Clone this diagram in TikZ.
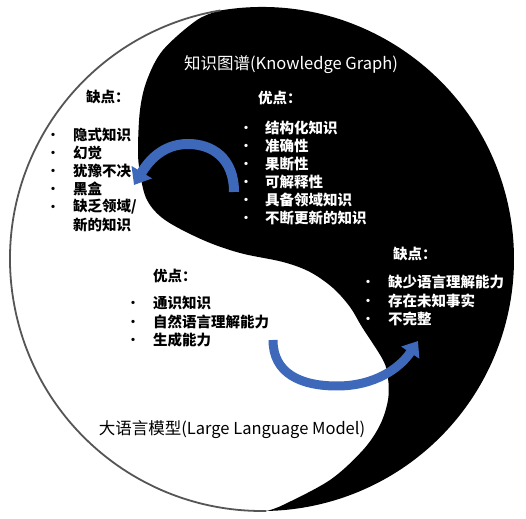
\documentclass[tikz,border=0pt]{standalone}
\usepackage{fontspec}
\setmainfont{Noto Sans CJK SC}
\usetikzlibrary{arrows.meta}
\definecolor{arrowblue}{RGB}{62,104,186}
\definecolor{rimgray}{RGB}{85,85,85}
\begin{document}
\begin{tikzpicture}[x=1pt,y=1pt,
  lst/.style={anchor=west, inner sep=0pt, font=\bfseries\fontsize{14.5}{18}\selectfont},
  bul/.style={anchor=center, inner sep=0pt, font=\bfseries\fontsize{12}{18}\selectfont},
  ttl/.style={inner sep=0pt, font=\fontsize{16.5}{20}\selectfont},
  curved/.style={draw=arrowblue, line width=10pt, -{Triangle[width=23pt,length=15pt]}}]
\useasboundingbox (0,0) rectangle (526,518);
\fill[white] (0,0) rectangle (526,518);
\coordinate (O) at (262,259);
\path (O) ++(99.5:252) coordinate (T);
\path (O) ++(-89:252) coordinate (B);
% black half
\fill[black] (T) arc[start angle=99.5, end angle=-89, radius=252]
  -- plot[smooth, tension=0.55] coordinates {(B) (283,13) (330,38) (363,68) (380,93) (388,118) (388,140) (383,158) (362,191) (350,211) (333,230) (310,246) (283,256) (240,265) (203,278) (165,298) (147,318) (140,345) (138,368) (140,408) (147,438) (163,468) (197,498) (T)} -- cycle;
% grey rim of the white half
\draw[rimgray, line width=1.8pt] (T) arc[start angle=99.5, end angle=271, radius=252];

% titles
\node[ttl, text=white] (kg) at (291,453) {知识图谱(Knowledge Graph)};
\node[ttl, text=black] (llm) at (232,88) {大语言模型(Large Language Model)};

% labels
\node[lst, text=black] (kgcons) at (86,421) {缺点：};
\node[lst, text=white] (kgpros) at (258,420) {优点：};
\node[lst, text=white] (llmcons) at (393,264) {缺点：};
\node[lst, text=black] (llmpros) at (153,242) {优点：};

% left list (black)
\foreach \t [count=\i] in {隐式知识,幻觉,犹豫不决,黑盒,缺乏领域/} {
  \node[bul, text=black] (lb\i) at (53,{383-18*(\i-1)}) {\vphantom{知}•};
  \node[lst, text=black] (l\i) at (73,{383-18*(\i-1)}) {\t};
}
\node[lst, text=black] (l6) at (73,293) {新的知识};

% knowledge graph pros (white)
\foreach \t [count=\i] in {结构化知识,准确性,果断性,可解释性,具备领域知识,不断更新的知识} {
  \node[bul, text=white] (kb\i) at (246,{390-18*(\i-1)}) {\vphantom{知}•};
  \node[lst, text=white] (k\i) at (265,{390-18*(\i-1)}) {\t};
}

% llm cons on black (white)
\foreach \t [count=\i] in {缺少语言理解能力,存在未知事实,不完整} {
  \node[bul, text=white] (rb\i) at (368,{236-18.5*(\i-1)}) {\vphantom{知}•};
  \node[lst, text=white] (r\i) at (388,{236-18.5*(\i-1)}) {\t};
}

% llm pros (black)
\foreach \t [count=\i] in {通识知识,自然语言理解能力,生成能力} {
  \node[bul, text=black] (pb\i) at (133,{215-18.5*(\i-1)}) {\vphantom{知}•};
  \node[lst, text=black] (p\i) at (153,{215-18.5*(\i-1)}) {\t};
}

% curved arrows
\coordinate (a1s) at (234,326);
\coordinate (a1e) at (134,333);
\draw[curved] (a1s) .. controls (234,360) and (212,374) .. (188,374)
  .. controls (162,374) and (148,356) .. (a1e);
\coordinate (a2s) at (273,178);
\coordinate (a2e) at (418,177);
\draw[curved, line width=9pt, -{Triangle[width=21pt,length=14pt]}] (a2s) .. controls (273,145) and (300,132) .. (337,132)
  .. controls (375,132) and (400,150) .. (a2e);
\end{tikzpicture}
\end{document}
